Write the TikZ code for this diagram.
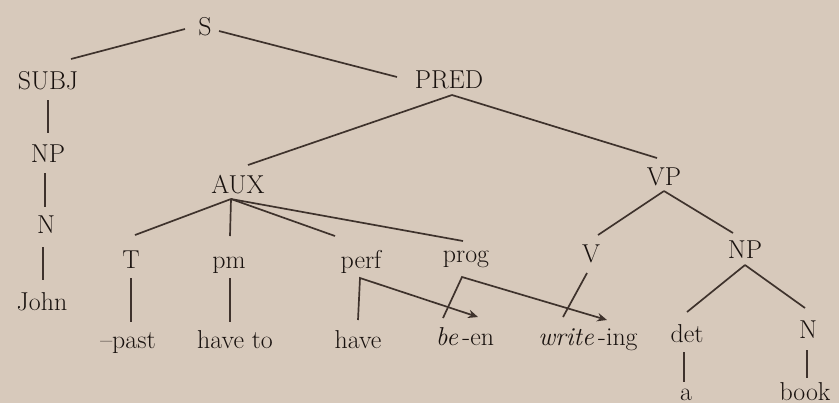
\documentclass[tikz,border=0pt]{standalone}
\usetikzlibrary{calc,arrows.meta}
\definecolor{paper}{RGB}{215,201,187}
\definecolor{ink}{RGB}{25,18,15}
\definecolor{pen}{RGB}{62,50,44}
\begin{document}
\begin{tikzpicture}[x=0.025cm, y=-0.025cm,
  lbl/.style={anchor=base, inner sep=0pt, text=ink, font=\fontsize{18.4}{22}\selectfont},
  br/.style={draw=pen, line width=1.2pt},
  hop/.style={draw=pen, line width=1.2pt, -{Stealth[length=7pt,width=6pt]}}]

  \path[use as bounding box, fill=paper] (0,0) rectangle (839,403);

  \node[lbl] (s)     at (205,35)  {S};
  \node[lbl] (subj)  at (48,89)   {SUBJ};
  \node[lbl] (pred)  at (449,88)  {PRED};
  \node[lbl] (np1)   at (48,162)  {NP};
  \node[lbl] (n1)    at (46,233)  {N};
  \node[lbl] (john)  at (42,310)  {John};
  \node[lbl] (aux)   at (238,193) {AUX};
  \node[lbl] (vp)    at (664,185) {VP};
  \node[lbl] (t)     at (131,268) {T};
  \node[lbl] (pm)    at (229,268) {pm};
  \node[lbl] (perf)  at (361,268) {perf};
  \node[lbl] (prog)  at (466,262) {prog};
  \node[lbl] (v)     at (591,262) {V};
  \node[lbl] (np2)   at (745,258) {NP};
  \node[lbl] (past)  at (128,348) {--past};
  \node[lbl] (haveto) at (235,348) {have to};
  \node[lbl] (have)  at (358,348) {have};
  \node[lbl] (been)  at (465,345) {\textit{be}\,-en};
  \node[lbl] (write) at (588,345) {\textit{write}\,-ing};
  \node[lbl] (det)   at (687,342) {det};
  \node[lbl] (n2)    at (808,338) {N};
  \node[lbl] (a)     at (686,400) {a};
  \node[lbl] (book)  at (805,400) {book};

  % branches
  \draw[br] ($(s.base)+(-20,-6)$) -- ($(subj.base)+(23,-30)$);
  \draw[br] ($(s.base)+(14,-4)$) -- ($(pred.base)+(-52,-11)$);
  \draw[br] ($(subj.base)+(0,11)$) -- ($(np1.base)+(0,-29)$);
  \draw[br] ($(np1.base)+(-3,11)$) -- ($(n1.base)+(-1,-26)$);
  \draw[br] ($(n1.base)+(-3,14)$) -- ($(john.base)+(1,-30)$);

  \draw[br] ($(pred.base)+(3,7)$) -- ($(aux.base)+(10,-28)$);
  \draw[br] ($(pred.base)+(3,7)$) -- ($(vp.base)+(-7,-27)$);

  \draw[br] ($(aux.base)+(-7,6)$) -- ($(t.base)+(4,-33)$);
  \draw[br] ($(aux.base)+(-7,6)$) -- ($(pm.base)+(1,-32)$);
  \draw[br] ($(aux.base)+(-7,6)$) -- ($(perf.base)+(-26,-32)$);
  \draw[br] ($(aux.base)+(-7,6)$) -- ($(prog.base)+(-3,-21)$);

  \draw[br] ($(vp.base)+(0,6)$) -- ($(v.base)+(7,-27)$);
  \draw[br] ($(vp.base)+(0,6)$) -- ($(np2.base)+(-12,-25)$);
  \draw[br] ($(np2.base)+(0,7)$) -- ($(det.base)+(0,-30)$);
  \draw[br] ($(np2.base)+(0,7)$) -- ($(n2.base)+(-3,-30)$);

  \draw[br] ($(t.base)+(0,10)$) -- ($(past.base)+(3,-26)$);
  \draw[br] ($(pm.base)+(1,10)$) -- ($(haveto.base)+(-5,-26)$);
  \draw[br] ($(v.base)+(-4,11)$) -- ($(write.base)+(-25,-28)$);
  \draw[br] ($(det.base)+(-3,10)$) -- ($(a.base)+(-2,-18)$);
  \draw[br] ($(n2.base)+(-1,12)$) -- ($(book.base)+(2,-22)$);

  % affix hopping
  \draw[hop] ($(have.base)+(0,-28)$) -- ($(perf.base)+(-1,10)$) -- ($(been.base)+(13,-28)$);
  \draw[hop] ($(been.base)+(-22,-27)$) -- ($(prog.base)+(-4,15)$) -- ($(write.base)+(19,-25)$);

\end{tikzpicture}
\end{document}
